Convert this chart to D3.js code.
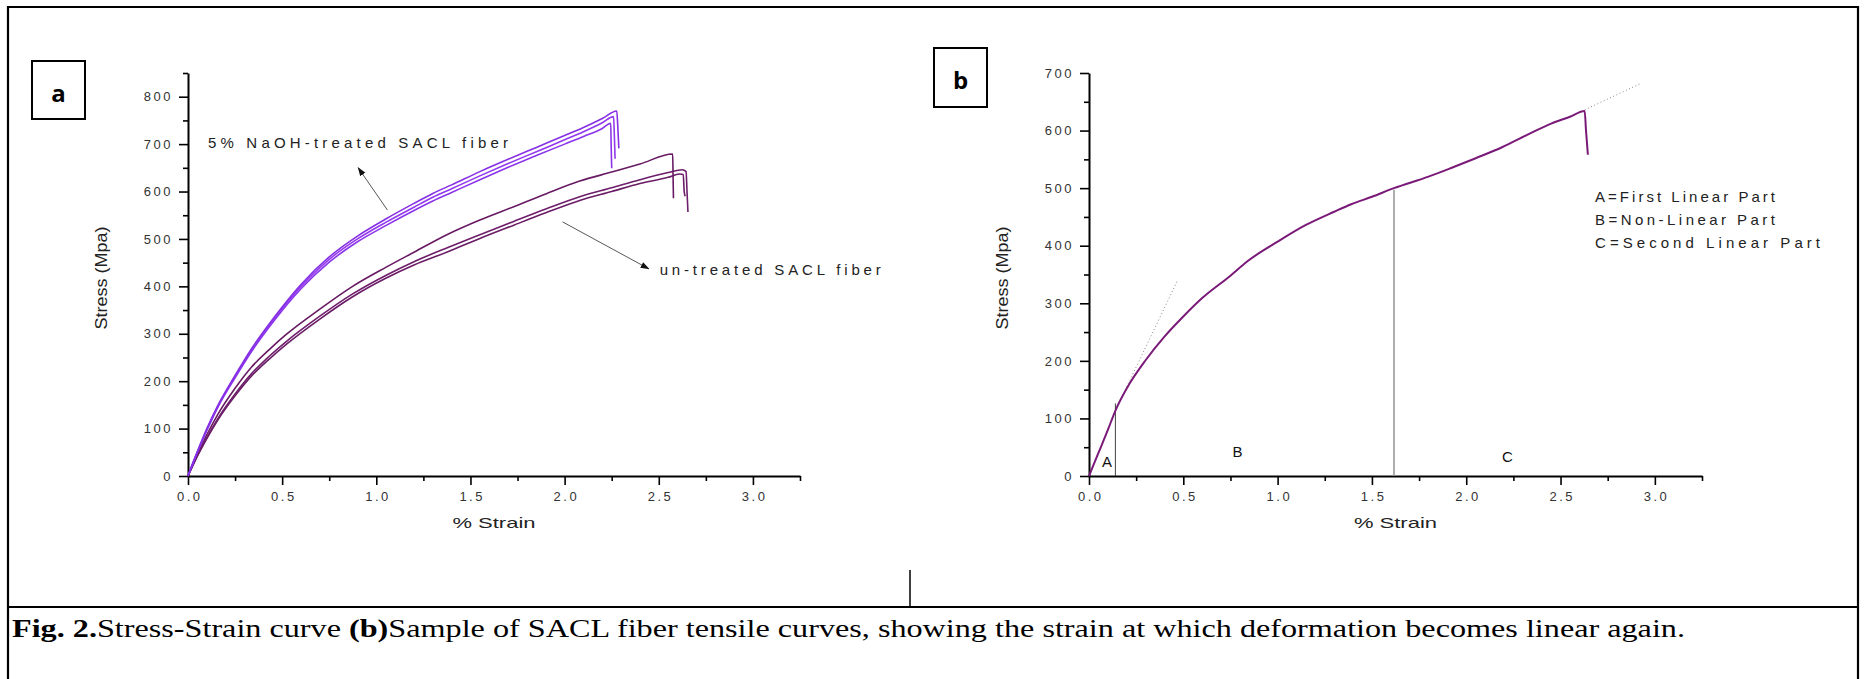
<!DOCTYPE html>
<html>
<head>
<meta charset="utf-8">
<script src="https://cdn.jsdelivr.net/npm/d3@7"></script>
<style>
  body { margin: 0; background: #fff; }
  svg { display: block; }
  .tick text { font-family: "Liberation Sans", Arial, sans-serif; font-size: 13px; letter-spacing: 2.5px; fill: #333; }
</style>
</head>
<body>
<svg id="fig" width="1866" height="679"></svg>
<script>
// tick values
const xMajor = [0, 0.5, 1.0, 1.5, 2.0, 2.5, 3.0];
const xMinor = [0.25, 0.75, 1.25, 1.75, 2.25, 2.75, 3.25];
const yMajorA = [0, 100, 200, 300, 400, 500, 600, 700, 800];
const yMinorA = [50, 150, 250, 350, 450, 550, 650, 750, 850];
const yMajorB = [0, 100, 200, 300, 400, 500, 600, 700];
const yMinorB = [50, 150, 250, 350, 450, 550, 650];

// panel a: [strain %, stress MPa]
const treated1 = [[0,0],[0.02,22],[0.04,42],[0.1,100],[0.16,150],[0.25,212],[0.34,270],[0.46,336],[0.6,404],[0.75,462],[0.9,506],[1.05,542],[1.2,575],[1.3,596],[1.4,614],[1.55,642],[1.7,668],[1.85,693],[2.0,718],[2.1,735],[2.2,754],[2.277,770],[2.282,740],[2.288,691]];
const treated2 = [[0,0],[0.02,21],[0.04,41],[0.1,98],[0.16,148],[0.25,210],[0.34,267],[0.46,333],[0.6,400],[0.75,457],[0.9,500],[1.05,535],[1.2,567],[1.3,588],[1.4,606],[1.55,633],[1.7,659],[1.85,684],[2.0,709],[2.1,726],[2.2,745],[2.26,758],[2.264,720],[2.268,669]];
const treated3 = [[0,0],[0.02,20],[0.04,40],[0.1,96],[0.16,146],[0.25,207],[0.34,264],[0.46,329],[0.6,395],[0.75,451],[0.9,494],[1.05,528],[1.2,560],[1.3,580],[1.4,598],[1.55,625],[1.7,651],[1.85,676],[2.0,700],[2.1,716],[2.2,733],[2.245,744],[2.247,700],[2.25,649]];
const untreated1 = [[0,0],[0.02,19],[0.04,37],[0.1,87],[0.16,131],[0.25,185],[0.34,231],[0.43,266],[0.52,298],[0.7,352],[0.87,399],[1.05,440],[1.2,472],[1.38,510],[1.55,540],[1.73,568],[1.9,595],[2.08,622],[2.25,641],[2.4,658],[2.574,679],[2.576,630],[2.578,586]];
const untreated2 = [[0,0],[0.02,18],[0.04,35],[0.1,81],[0.16,122],[0.25,173],[0.34,217],[0.43,252],[0.52,283],[0.7,337],[0.87,383],[1.05,423],[1.2,452],[1.38,482],[1.55,509],[1.73,537],[1.9,563],[2.08,589],[2.25,608],[2.4,625],[2.55,640],[2.625,646],[2.645,642],[2.65,600],[2.655,557]];
const untreated3 = [[0,0],[0.02,17],[0.04,34],[0.1,79],[0.16,119],[0.25,169],[0.34,212],[0.43,246],[0.52,277],[0.7,331],[0.87,377],[1.05,417],[1.2,445],[1.38,473],[1.55,501],[1.73,529],[1.9,555],[2.08,581],[2.25,600],[2.4,617],[2.55,630],[2.61,637],[2.63,636],[2.635,600],[2.64,590]];

// panel b: one sample curve, the tangents and the region limits
const sample = [[0,0],[0.025,20],[0.05,40],[0.1,80],[0.138,112],[0.2,152],[0.3,201],[0.4,242],[0.5,277],[0.6,309],[0.75,348],[0.84,373],[1.0,407],[1.15,436],[1.3,459],[1.39,472],[1.5,485],[1.617,500],[1.8,520],[1.92,535],[2.05,552],[2.19,571],[2.32,592],[2.45,612],[2.55,624],[2.628,634],[2.635,600],[2.645,558]];
const tangent1 = [[0.2,155],[0.47,340]];
const tangent2 = [[2.628,636],[2.92,681]];
const limitA = [[0.14,0],[0.14,126]];
const limitC = [[1.617,0],[1.617,497]];
const regions = ["A", "B", "C"];
const regionAt = [[0.096,16],[0.787,33],[2.218,24]];
const legendLines = ["A=First Linear Part", "B=Non-Linear Part", "C=Second Linear Part"];

const font = '"Liberation Sans", Arial, sans-serif';
const svg = d3.select("#fig");

svg.append("rect").attr("width", 1866).attr("height", 679).attr("fill", "#fff");

// arrow head
svg.append("defs").append("marker")
  .attr("id", "head")
  .attr("viewBox", "0 0 10 10")
  .attr("refX", 9).attr("refY", 5)
  .attr("markerWidth", 9).attr("markerHeight", 9)
  .attr("markerUnits", "userSpaceOnUse")
  .attr("orient", "auto")
  .append("path").attr("d", "M0,1.5 L10,5 L0,8.5 Z").attr("fill", "#111");

// frame of the figure table
let frame = svg.append("g").attr("stroke", "#000").attr("stroke-width", 2.2);
frame.append("line").attr("x1", 8).attr("y1", 7).attr("x2", 1859).attr("y2", 7);
frame.append("line").attr("x1", 8).attr("y1", 6).attr("x2", 8).attr("y2", 679);
frame.append("line").attr("x1", 1858).attr("y1", 6).attr("x2", 1858).attr("y2", 679);
frame.append("line").attr("x1", 8).attr("y1", 607).attr("x2", 1859).attr("y2", 607);
frame.append("line").attr("x1", 910).attr("y1", 570).attr("x2", 910).attr("y2", 607).attr("stroke-width", 1.5);

function drawAxes(g, x, y, yMajor, yMinor) {
  g.append("g").attr("transform", `translate(0,${y.range()[0]})`)
    .call(d3.axisBottom(x).tickValues(xMinor).tickSize(5).tickSizeOuter(0).tickFormat(""))
    .call(a => a.select(".domain").remove());
  g.append("g").attr("transform", `translate(${x.range()[0]},0)`)
    .call(d3.axisLeft(y).tickValues(yMinor).tickSize(5).tickSizeOuter(0).tickFormat(""))
    .call(a => a.select(".domain").remove());

  let xa = g.append("g").attr("transform", `translate(0,${y.range()[0]})`)
    .call(d3.axisBottom(x).tickValues(xMajor).tickSize(9).tickSizeOuter(0).tickPadding(7).tickFormat(d3.format(".1f")));
  xa.selectAll("text").attr("dx", "1.2");
  g.append("g").attr("transform", `translate(${x.range()[0]},0)`)
    .call(d3.axisLeft(y).tickValues(yMajor).tickSize(9).tickSizeOuter(0).tickPadding(6).tickFormat(d3.format("d")));

  g.selectAll(".domain").attr("stroke", "#000").attr("stroke-width", 2);
  g.selectAll(".tick line").attr("stroke", "#000").attr("stroke-width", 1.6);
  g.selectAll(".tick text").attr("font-family", null).attr("font-size", null);

  let cx = (x.range()[0] + x.range()[1]) / 2;
  g.append("text")
    .attr("x", cx).attr("y", 528)
    .attr("text-anchor", "middle")
    .attr("font-family", font).attr("font-size", 15).attr("fill", "#222")
    .attr("textLength", 83).attr("lengthAdjust", "spacingAndGlyphs")
    .text("% Strain");
  g.append("text")
    .attr("transform", `translate(${x.range()[0] - 87},278) rotate(-90)`)
    .attr("text-anchor", "middle").attr("dy", "0.35em")
    .attr("font-family", font).attr("font-size", 16).attr("fill", "#222")
    .attr("textLength", 103).attr("lengthAdjust", "spacingAndGlyphs")
    .text("Stress (Mpa)");
}

function panelBox(g, bx, by, w, h, letter) {
  g.append("rect").attr("x", bx).attr("y", by).attr("width", w).attr("height", h)
    .attr("fill", "none").attr("stroke", "#000").attr("stroke-width", 2);
  g.append("text")
    .attr("x", bx + w / 2).attr("y", by + h / 2 + 2)
    .attr("text-anchor", "middle").attr("dominant-baseline", "central")
    .attr("font-family", '"Open Sans", "Liberation Sans", sans-serif').attr("font-weight", "bold").attr("font-size", 24)
    .text(letter);
}

function spacedText(g, px, py, str, len) {
  return g.append("text")
    .attr("x", px).attr("y", py)
    .attr("font-family", font).attr("font-size", 15).attr("fill", "#222")
    .attr("textLength", len).attr("lengthAdjust", "spacing")
    .text(str);
}

// ---- panel a ----
let ga = svg.append("g");
let xA = d3.scaleLinear().domain([0, 3.25]).range([188, 800]);
let yA = d3.scaleLinear().domain([0, 850]).range([476, 73]);
let lineA = d3.line().x(d => xA(d[0])).y(d => yA(d[1])).curve(d3.curveMonotoneX);

drawAxes(ga, xA, yA, yMajorA, yMinorA);
panelBox(ga, 32, 61, 53, 58, "a");

let curvesA = [
  {data: untreated3, color: "#6a1c66"},
  {data: untreated2, color: "#6e1e6a"},
  {data: untreated1, color: "#671a63"},
  {data: treated3, color: "#8a34ea"},
  {data: treated2, color: "#9238ee"},
  {data: treated1, color: "#8630e4"}
];
ga.selectAll("path.curve")
  .data(curvesA)
  .join("path")
  .attr("class", "curve")
  .attr("d", d => lineA(d.data))
  .attr("fill", "none")
  .attr("stroke", d => d.color)
  .attr("stroke-width", 1.6)
  .attr("stroke-linejoin", "round");

spacedText(ga, xA(0.106), yA(692), "5% NaOH-treated SACL fiber", 300);
spacedText(ga, xA(2.505), yA(424), "un-treated SACL fiber", 221);

ga.append("line")
  .attr("x1", xA(1.059)).attr("y1", yA(561))
  .attr("x2", xA(0.904)).attr("y2", yA(650))
  .attr("stroke", "#444").attr("stroke-width", 0.9).attr("marker-end", "url(#head)");
ga.append("line")
  .attr("x1", xA(1.989)).attr("y1", yA(536))
  .attr("x2", xA(2.447)).attr("y2", yA(437))
  .attr("stroke", "#444").attr("stroke-width", 0.9).attr("marker-end", "url(#head)");

// ---- panel b ----
let gb = svg.append("g");
let xB = d3.scaleLinear().domain([0, 3.25]).range([1089, 1702]);
let yB = d3.scaleLinear().domain([0, 700]).range([476, 73]);
let lineB = d3.line().x(d => xB(d[0])).y(d => yB(d[1]));
let curveB = d3.line().x(d => xB(d[0])).y(d => yB(d[1])).curve(d3.curveMonotoneX);

drawAxes(gb, xB, yB, yMajorB, yMinorB);
panelBox(gb, 934, 48, 53, 59, "b");

gb.append("path").attr("d", lineB(limitA)).attr("stroke", "#444").attr("stroke-width", 1);
gb.append("path").attr("d", lineB(limitC)).attr("stroke", "#9a9a9a").attr("stroke-width", 1.6);
gb.append("path").attr("d", lineB(tangent1)).attr("stroke", "#888").attr("stroke-width", 1).attr("stroke-dasharray", "1,2.5").attr("fill", "none");
gb.append("path").attr("d", lineB(tangent2)).attr("stroke", "#888").attr("stroke-width", 1).attr("stroke-dasharray", "1,2.5").attr("fill", "none");

gb.append("path")
  .attr("d", curveB(sample))
  .attr("fill", "none")
  .attr("stroke", "#7a1a78")
  .attr("stroke-width", 2)
  .attr("stroke-linejoin", "round");

gb.selectAll("text.region")
  .data(regions)
  .join("text")
  .attr("class", "region")
  .attr("x", (d, i) => xB(regionAt[i][0]))
  .attr("y", (d, i) => yB(regionAt[i][1]))
  .attr("text-anchor", "middle")
  .attr("font-family", font).attr("font-size", 15).attr("fill", "#111")
  .text(d => d);

let legendLen = [180, 180, 225];
legendLines.forEach((t, i) => {
  spacedText(gb, 1595, 202 + i * 23, t, legendLen[i]);
});

// ---- caption ----
let cap = svg.append("text")
  .attr("x", 12).attr("y", 637)
  .attr("font-family", '"Liberation Serif", "Times New Roman", serif')
  .attr("font-size", 26).attr("fill", "#000")
  .attr("textLength", 1673).attr("lengthAdjust", "spacingAndGlyphs");
cap.append("tspan").attr("font-weight", "bold").text("Fig. 2.");
cap.append("tspan").text("Stress-Strain curve ");
cap.append("tspan").attr("font-weight", "bold").text("(b)");
cap.append("tspan").text("Sample of SACL fiber tensile curves, showing the strain at which deformation becomes linear again.");
</script>
</body>
</html>
